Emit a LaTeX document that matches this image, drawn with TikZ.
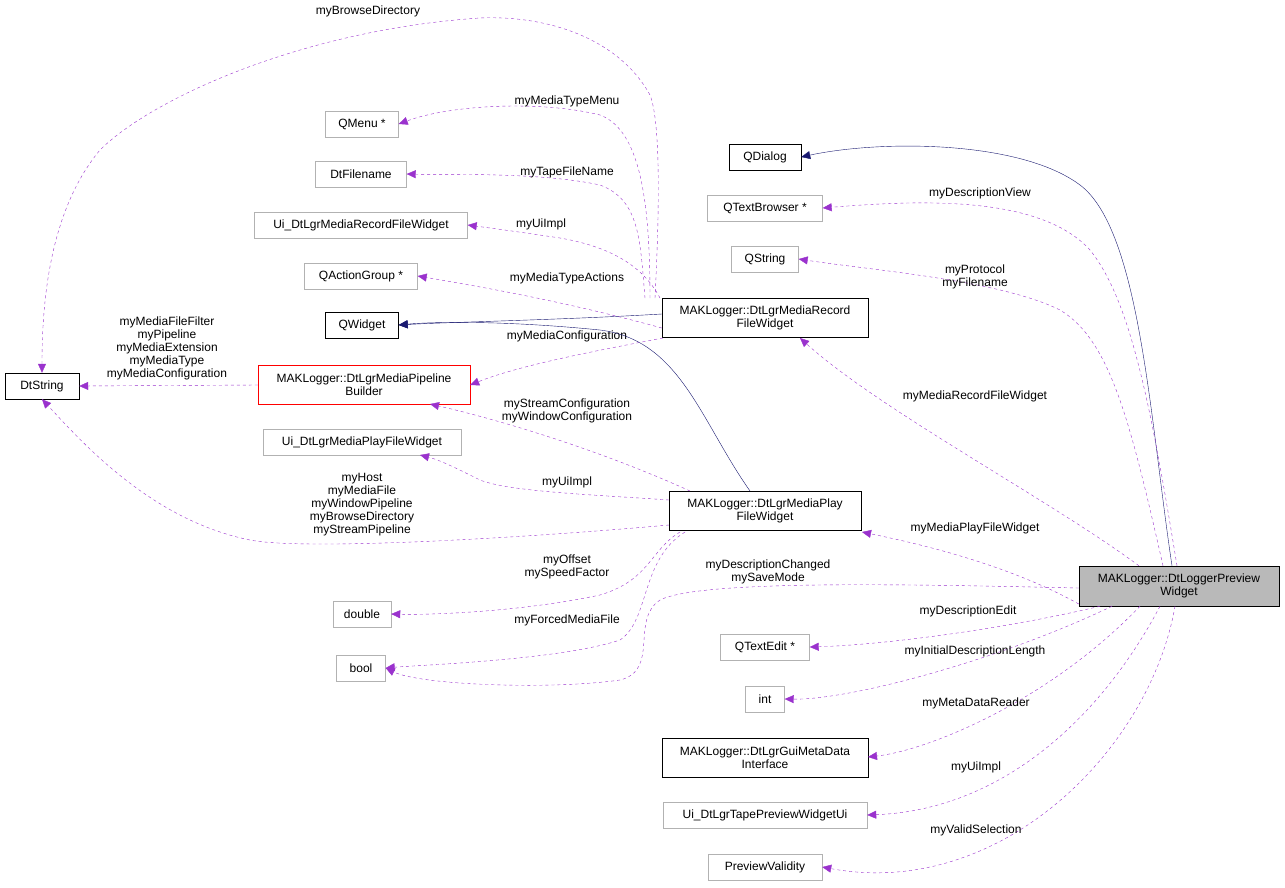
\documentclass[tikz,border=0pt]{standalone}
\usepackage{fontspec}
\setmainfont{Liberation Sans}
\usetikzlibrary{arrows.meta,positioning}
\definecolor{dorchid}{RGB}{154,50,205}
\definecolor{navyb}{RGB}{25,25,112}
\tikzset{
    cls/.style={draw=black, fill=white, inner sep=2pt, minimum height=26pt, align=center, font=\fontsize{12}{13}\selectfont},
    ext/.style={cls, draw=gray!60},
    dep/.style={draw=dorchid, dashed, -{Triangle[length=9pt,width=8pt]}, thin},
    inh/.style={draw=navyb, -{Triangle[length=9pt,width=8pt]}, thin},
    lbl/.style={align=center, font=\fontsize{12}{13}\selectfont, inner sep=0pt}
}
\begin{document}
\begin{tikzpicture}[x=1pt,y=-1pt]
\useasboundingbox (0,0) rectangle (1285,887);
% classes
\node[cls, minimum width=74pt] (dtstr) at (42,386) {DtString};
\node[cls, draw=red, minimum width=212pt, minimum height=39pt] (pipe) at (364,385) {MAKLogger::DtLgrMediaPipeline\\Builder};
\node[ext, minimum width=73pt] (qmenu) at (362,124) {QMenu *};
\node[ext, minimum width=91pt] (dtfn) at (361,174) {DtFilename};
\node[ext, minimum width=213pt] (uirec) at (361,225) {Ui\_DtLgrMediaRecordFileWidget};
\node[ext, minimum width=113pt] (qag) at (361,276) {QActionGroup *};
\node[cls, minimum width=73pt] (qwidget) at (362,325) {QWidget};
\node[ext, minimum width=198pt] (uiplay) at (362,442) {Ui\_DtLgrMediaPlayFileWidget};
\node[ext, minimum width=58pt] (double) at (362,614) {double};
\node[ext, minimum width=49pt] (bool) at (361,668) {bool};
\node[cls, minimum width=72pt] (qdialog) at (765,157) {QDialog};
\node[ext, minimum width=115pt] (qtb) at (765,208) {QTextBrowser *};
\node[ext, minimum width=67pt] (qstr) at (765,259) {QString};
\node[cls, minimum width=206pt, minimum height=39pt] (rec) at (765,318) {MAKLogger::DtLgrMediaRecord\\FileWidget};
\node[cls, minimum width=192pt, minimum height=39pt] (play) at (765,511) {MAKLogger::DtLgrMediaPlay\\FileWidget};
\node[ext, minimum width=89pt] (qte) at (765,647) {QTextEdit *};
\node[ext, minimum width=39pt] (int) at (765,699) {int};
\node[cls, minimum width=206pt, minimum height=39pt] (meta) at (765,758) {MAKLogger::DtLgrGuiMetaData\\Interface};
\node[ext, minimum width=204pt] (tapeui) at (765,815) {Ui\_DtLgrTapePreviewWidgetUi};
\node[ext, minimum width=114pt] (pval) at (765,867) {PreviewValidity};
\node[cls, fill=gray!55, minimum width=200pt, minimum height=40pt] (pv) at (1179,586) {MAKLogger::DtLoggerPreview\\Widget};
% preview widget members
\draw[inh] ([xshift=-7]pv.north) .. controls (1150,420) and (1140,230) .. (1080,185) .. controls (1020,140) and (880,140) .. (qdialog.east);
\draw[dep] ([xshift=-2]pv.north) .. controls (1150,400) and (1130,300) .. (1090,250) .. controls (1040,195) and (920,200) .. (qtb.east);
\draw[dep] ([xshift=-16]pv.north) .. controls (1130,420) and (1110,340) .. (1060,310) .. controls (1000,280) and (870,270) .. (qstr.east);
\draw[dep] ([xshift=-40]pv.north) .. controls (1050,500) and (880,410) .. (800,338);
\draw[dep] ([yshift=-18]pv.west) .. controls (1000,560) and (900,540) .. (862,532);
\draw[dep] ([yshift=-2]pv.west) .. controls (900,584) and (700,580) .. (660,600) .. controls (630,620) and (660,670) .. (620,680) .. controls (550,690) and (420,685) .. (bool.east);
\draw[dep] ([xshift=-79]pv.south) .. controls (1000,630) and (880,645) .. (qte.east);
\draw[dep] ([xshift=-67]pv.south) .. controls (1000,660) and (850,700) .. (int.east);
\draw[dep] ([xshift=-39]pv.south) .. controls (1050,700) and (930,750) .. (868,757);
\draw[dep] ([xshift=-19]pv.south) .. controls (1100,720) and (1000,810) .. (tapeui.east);
\draw[dep] ([xshift=-4]pv.south) .. controls (1150,750) and (1000,900) .. (pval.east);
\node[lbl] at (980,193) {myDescriptionView};
\node[lbl] at (975,277) {myProtocol\\myFilename};
\node[lbl] at (975,396) {myMediaRecordFileWidget};
\node[lbl] at (975,528) {myMediaPlayFileWidget};
\node[lbl] at (768,572) {myDescriptionChanged\\mySaveMode};
\node[lbl] at (968,611) {myDescriptionEdit};
\node[lbl] at (975,651) {myInitialDescriptionLength};
\node[lbl] at (976,703) {myMetaDataReader};
\node[lbl] at (976,767) {myUiImpl};
\node[lbl] at (976,830) {myValidSelection};
% record widget members
\draw[inh] ([yshift=4]rec.west) .. controls (560,320) and (450,322) .. (qwidget.east);
\draw[dep] (655,298) .. controls (660,200) and (660,120) .. (650,95) .. controls (620,40) and (550,15) .. (480,18) .. controls (300,30) and (150,100) .. (100,150) .. controls (50,210) and (42,300) .. (dtstr.north);
\draw[dep] (650,298) .. controls (650,200) and (640,130) .. (600,115) .. controls (540,100) and (450,105) .. (qmenu.east);
\draw[dep] (645,298) .. controls (640,240) and (640,200) .. (600,185) .. controls (540,172) and (450,175) .. (dtfn.east);
\draw[dep] (660,298) .. controls (640,260) and (600,245) .. (560,238) .. controls (520,232) and (490,228) .. (uirec.east);
\draw[dep] ([yshift=-10]rec.west) .. controls (560,300) and (470,285) .. (qag.east);
\draw[dep] (663,338) .. controls (600,350) and (520,365) .. (pipe.east);
\node[lbl] at (368,11) {myBrowseDirectory};
\node[lbl] at (567,101) {myMediaTypeMenu};
\node[lbl] at (567,172) {myTapeFileName};
\node[lbl] at (541,224) {myUiImpl};
\node[lbl] at (567,278) {myMediaTypeActions};
\node[lbl] at (567,336) {myMediaConfiguration};
% pipeline builder and play widget members
\draw[dep] (pipe.west) -- (dtstr.east);
\node[lbl] at (167,348) {myMediaFileFilter\\myPipeline\\myMediaExtension\\myMediaType\\myMediaConfiguration};
\draw[inh] (750,491) .. controls (700,420) and (680,340) .. (600,330) .. controls (500,320) and (430,322) .. (qwidget.east);
\draw[dep] (690,491) .. controls (600,450) and (500,420) .. (430,404);
\draw[dep] (669,500) .. controls (600,495) and (510,492) .. (480,480) .. controls (460,470) and (440,460) .. (420,455);
\draw[dep] (669,525) .. controls (500,540) and (300,550) .. (250,540) .. controls (150,520) and (80,440) .. (dtstr.south);
\draw[dep] (680,532) .. controls (650,550) and (650,580) .. (600,595) .. controls (520,612) and (430,615) .. (double.east);
\draw[dep] (685,532) .. controls (640,560) and (650,620) .. (620,640) .. controls (560,660) and (420,665) .. (bool.east);
\node[lbl] at (567,411) {myStreamConfiguration\\myWindowConfiguration};
\node[lbl] at (567,482) {myUiImpl};
\node[lbl] at (362,505) {myHost\\myMediaFile\\myWindowPipeline\\myBrowseDirectory\\myStreamPipeline};
\node[lbl] at (567,567) {myOffset\\mySpeedFactor};
\node[lbl] at (567,620) {myForcedMediaFile};
\end{tikzpicture}
\end{document}
